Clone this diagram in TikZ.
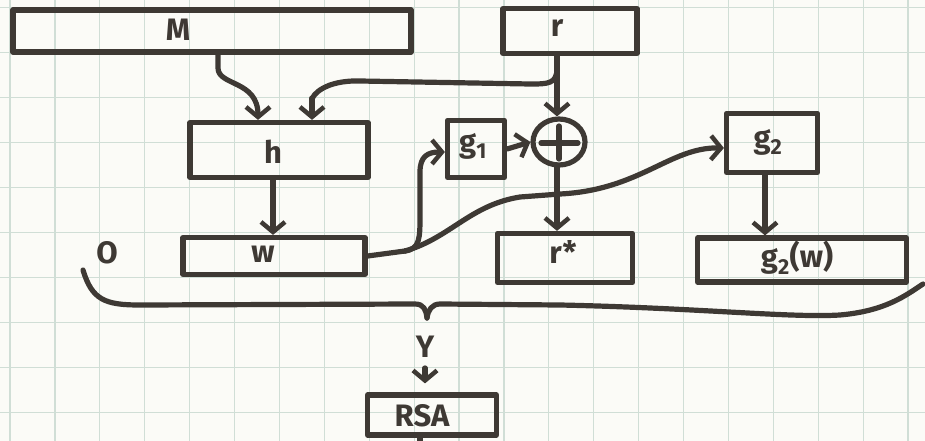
\documentclass[tikz,border=0pt]{standalone}
\usepackage{fontspec}
\setmainfont{Fira Sans}
\usetikzlibrary{arrows.meta,calc,shapes.geometric}
\definecolor{ink}{RGB}{62,57,52}
\definecolor{paper}{RGB}{251,251,247}
\definecolor{gridline}{RGB}{208,222,214}
\newcommand{\handfont}{\fontsize{31}{33}\selectfont\bfseries}
\begin{document}
\begin{tikzpicture}[x=1pt,y=-1pt,
  inkline/.style={draw=ink, line width=5.2pt, line cap=round, line join=round},
  box/.style={inkline, rectangle, inner sep=0pt},
  arr/.style={inkline, -{Straight Barb[length=10pt,width=24pt,line width=4.5pt]}},
  lbl/.style={text=ink, font=\handfont, inner sep=0pt},
]
% squared paper
\fill[paper] (0,0) rectangle (925,441);
\useasboundingbox (0,0) rectangle (925,441);
\foreach \k in {0,...,20}
  \draw[gridline, line width=1.2pt] ({10+44.9*\k},0) -- ({10+44.9*\k},441);
\foreach \k in {0,...,9}
  \draw[gridline, line width=1.2pt] (0,{7.5+45*\k}) -- (925,{7.5+45*\k});

% boxes
\node[box, minimum width=398pt, minimum height=42pt] (M) at (212,31) {};
\node[lbl] (Mt) at (178,30) {M};
\node[box, minimum width=134pt, minimum height=45pt] (r) at (570,31) {};
\node[lbl] (rt) at (557,28) {r};
\node[box, minimum width=178pt, minimum height=55pt] (h) at (279,150) {};
\node[lbl] (ht) at (273,152) {h};
\node[box, minimum width=182pt, minimum height=37pt] (w) at (274,256) {};
\node[lbl] (wt) at (263,254) {w};
\node[box, minimum width=57pt, minimum height=57pt] (g1) at (476,149) {};
\node[lbl] (g1t) at (473,146) {g\textsubscript{1}};
\node[draw=ink, line width=5.2pt, ellipse, minimum width=52pt, minimum height=46pt, inner sep=0pt] (x) at (559,142) {};
\node[box, minimum width=91pt, minimum height=59pt] (g2) at (772,143) {};
\node[lbl] (g2t) at (768,142) {g\textsubscript{2}};
\node[box, minimum width=135pt, minimum height=49pt] (rs) at (565,258) {};
\node[lbl] (rst) at (563,252) {r*};
\node[box, minimum width=209pt, minimum height=44pt] (g2w) at (802,260) {};
\node[lbl] (g2wt) at (797,258) {g\textsubscript{2}(w)};
\node[box, minimum width=129pt, minimum height=40pt] (rsa) at (432,415) {};
\node[lbl] (rsat) at (422,416) {RSA};
\node[lbl] (o) at (107,253) {O};
\node[lbl] (y) at (425,347) {Y};

% plus sign inside the xor circle
\draw[inkline] ($(x.center)+(-18,1)$) -- ($(x.center)+(19,1)$);
\draw[inkline] ($(x.center)+(0,-16)$) -- ($(x.center)+(0,17)$);

% connectors
\draw[arr] (218,0 |- M.south) -- (218,68) .. controls (218,86) and (258,80) .. (258,0 |- h.north);
\draw[inkline] (557,0 |- r.south) -- (557,68) .. controls (557,84) and (548,84) .. (530,84)
  -- (360,81) .. controls (325,80) and (312,95) .. (312,100);
\draw[arr] (312,98) -- (312,0 |- h.north);
\draw[arr] (557,0 |- r.south) -- (557,0 |- x.north);
\draw[arr] (g1.east) -- (x.west);
\draw[arr] (557,0 |- x.south) -- (557,0 |- rs.north);
\draw[arr] (273,0 |- h.south) -- (273,0 |- w.north);
\coordinate (wj) at (405,251);
\draw[inkline] (w.east) -- (wj);
\draw[arr] (wj) .. controls (420,249) and (420,238) .. (420,215) -- (420,172)
  .. controls (420,156) and (428,152) .. ($(g1.west)+(0,3)$);
\draw[arr] (wj) .. controls (450,238) and (470,205) .. (520,197) -- (560,194)
  .. controls (640,190) and (670,147) .. ($(g2.west)+(0,5)$);
\draw[arr] (765,0 |- g2.south) -- (765,0 |- g2w.north);

% brace gathering the outputs
\coordinate (bt) at (427,318);
\draw[inkline] (83,270) .. controls (92,300) and (105,305) .. (140,305) -- (415,304)
  .. controls (424,304) and (426,310) .. (bt);
\draw[inkline] (bt) .. controls (428,310) and (432,304) .. (440,304) -- (560,305)
  .. controls (700,308) and (790,318) .. (840,315) .. controls (885,311) and (905,296) .. (923,284);
\draw[arr, shorten <=10pt, shorten >=9pt] (y.south) -- (y.south |- rsa.north);
\coordinate (stub) at (420,445);
\draw[inkline] (420,0 |- rsa.south) -- (stub);
\end{tikzpicture}
\end{document}
